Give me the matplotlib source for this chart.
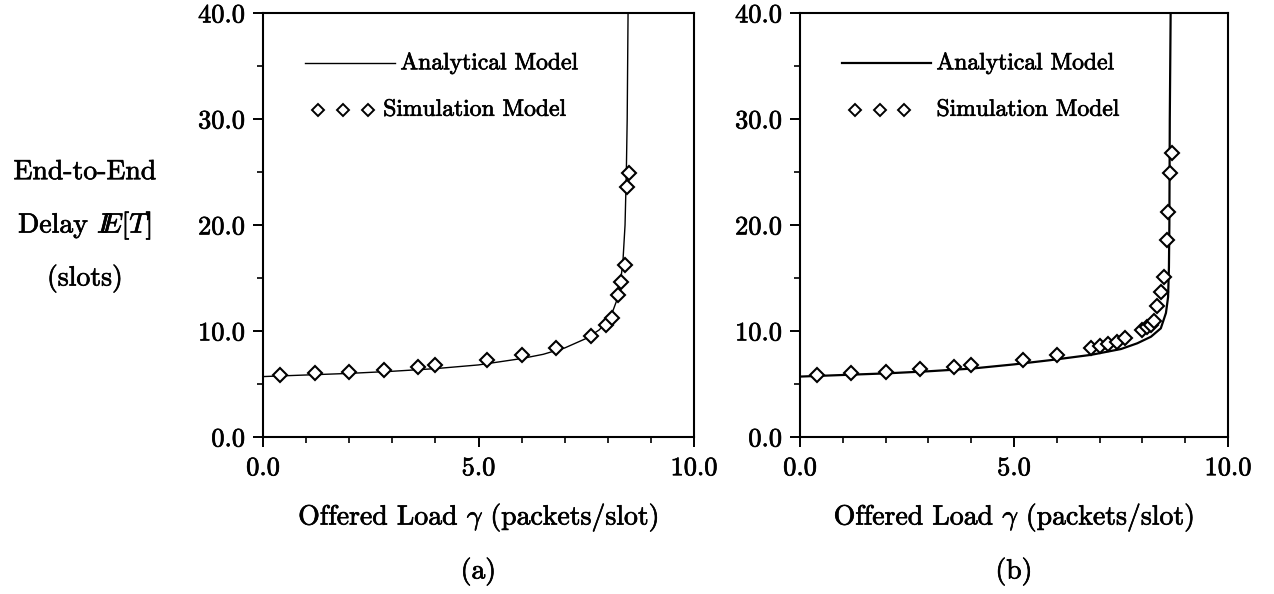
import matplotlib
matplotlib.use("Agg")
import matplotlib.pyplot as plt
import matplotlib.patheffects as pe

plt.rcParams['font.family'] = ['cmr10', 'DejaVu Serif']
plt.rcParams['mathtext.fontset'] = 'cm'
plt.rcParams['axes.unicode_minus'] = False

# ---------------- data ----------------
x_ticks = [0.0, 5.0, 10.0]
x_tick_labels = ["0.0", "5.0", "10.0"]
y_ticks = [0.0, 10.0, 20.0, 30.0, 40.0]
y_tick_labels = ["0.0", "10.0", "20.0", "30.0", "40.0"]

# panel (a)
a_model_x = [0.0, 1.0, 2.0, 3.0, 4.0, 5.0, 6.0, 6.5, 7.0, 7.5, 7.8, 8.0, 8.1, 8.2,
             8.3, 8.35, 8.4, 8.43, 8.45, 8.47]
a_model_y = [5.7, 5.85, 6.0, 6.2, 6.45, 6.8, 7.4, 7.8, 8.4, 9.3, 10.1, 11.0, 11.7,
             12.8, 14.8, 16.5, 20.0, 25.0, 30.0, 40.0]
a_sim_x = [0.4, 1.2, 2.0, 2.8, 3.6, 4.0, 5.2, 6.0, 6.8, 7.6, 7.95, 8.1, 8.23, 8.3,
           8.4, 8.45, 8.5]
a_sim_y = [5.85, 6.0, 6.16, 6.32, 6.57, 6.79, 7.26, 7.74, 8.37, 9.5, 10.6, 11.2,
           13.4, 14.65, 16.2, 23.6, 24.9]

# panel (b)
b_model_x = [0.0, 1.0, 2.0, 3.0, 4.0, 5.0, 5.85, 6.8, 7.5, 7.88, 8.2, 8.43, 8.55,
             8.6, 8.62, 8.63, 8.64, 8.66]
b_model_y = [5.7, 5.85, 6.0, 6.2, 6.45, 6.85, 7.25, 7.75, 8.3, 8.84, 9.46, 10.25,
             11.7, 13.2, 16.0, 20.0, 30.0, 40.0]
b_sim_x = [0.4, 1.2, 2.0, 2.8, 3.6, 4.0, 5.2, 6.0, 6.8, 7.0, 7.2, 7.4, 7.6, 8.0,
           8.1, 8.2, 8.27, 8.35, 8.43, 8.51, 8.57, 8.6, 8.65, 8.7]
b_sim_y = [5.85, 6.07, 6.16, 6.38, 6.63, 6.79, 7.26, 7.74, 8.37, 8.58, 8.77, 9.0,
           9.3, 10.1, 10.35, 10.57, 10.9, 12.36, 13.7, 15.1, 18.6, 21.2, 24.9, 26.8]

legend_labels = ["Analytical Model", "Simulation Model"]
panel_labels = ["(a)", "(b)"]
x_label = r"Offered Load $\gamma$ (packets/slot)"
y_label_lines = ["End-to-End", r"Delay $I\!\!E[T]$", "(slots)"]

# ---------------- figure ----------------
W, H = 1274, 594
fig = plt.figure(figsize=(W / 100, H / 100), dpi=100)
axA = fig.add_axes([263 / W, 1 - 437 / H, 431 / W, 424 / H])
axB = fig.add_axes([800 / W, 1 - 437 / H, 428 / W, 424 / H])

FS_TICK = 19
FS_LAB = 20
FS_LEG = 17
THICK = [pe.withStroke(linewidth=0.5, foreground='black')]


def style(ax, mx, my, sx, sy, lw, sim_text_x, panel):
    ax.plot(mx, my, color='black', lw=lw, solid_joinstyle='round')
    ax.plot(sx, sy, ls='none', marker='D', ms=7.5, mfc='white', mec='black',
            mew=1.5, clip_on=False)
    ax.set_xlim(0, 10)
    ax.set_ylim(0, 40)
    ax.set_xticks(x_ticks)
    ax.set_xticklabels(x_tick_labels)
    ax.set_yticks(y_ticks)
    ax.set_yticklabels(y_tick_labels)
    ax.set_xticks([1, 2, 3, 4, 6, 7, 8, 9], minor=True)
    ax.set_yticks([5, 15, 25, 35], minor=True)
    ax.tick_params(which='major', direction='out', length=7, width=1.4,
                   labelsize=FS_TICK)
    ax.tick_params(axis='x', which='major', pad=7)
    ax.tick_params(axis='y', which='major', pad=6)
    ax.tick_params(which='minor', direction='out', length=4, width=1.2)
    for lab in ax.get_xticklabels() + ax.get_yticklabels():
        lab.set_path_effects(THICK)
    for s in ax.spines.values():
        s.set_linewidth(1.5)
    ax.set_xlabel(x_label, fontsize=FS_LAB, path_effects=THICK)
    ax.xaxis.set_label_coords(0.5, (437 - 517) / 424)
    ax.xaxis.label.set_va('center')
    ax.text(0.5, (437 - 571) / 424, panel, transform=ax.transAxes, ha='center',
            va='center', fontsize=FS_LAB, path_effects=THICK)
    # legend drawn by hand
    ax.plot([0.098, 0.307], [0.882, 0.882], transform=ax.transAxes, color='black',
            lw=lw)
    ax.text(0.319, 0.882, legend_labels[0], transform=ax.transAxes, ha='left',
            va='center', fontsize=FS_LEG, path_effects=THICK)
    ax.plot([0.128, 0.186, 0.244], [0.772, 0.772, 0.772], transform=ax.transAxes,
            ls='none', marker='D', ms=6, mfc='white', mec='black', mew=1.4)
    ax.text(sim_text_x, 0.772, legend_labels[1], transform=ax.transAxes,
            ha='left', va='center', fontsize=FS_LEG, path_effects=THICK)


style(axA, a_model_x, a_model_y, a_sim_x, a_sim_y, 1.0, 0.279, panel_labels[0])
style(axB, b_model_x, b_model_y, b_sim_x, b_sim_y, 1.6, 0.319, panel_labels[1])

for i, line in enumerate(y_label_lines):
    fig.text(85 / W, 1 - (172 + 53 * i) / H, line, ha='center', va='center',
             fontsize=FS_LAB, path_effects=THICK)

fig.savefig("out.png", dpi=100)
